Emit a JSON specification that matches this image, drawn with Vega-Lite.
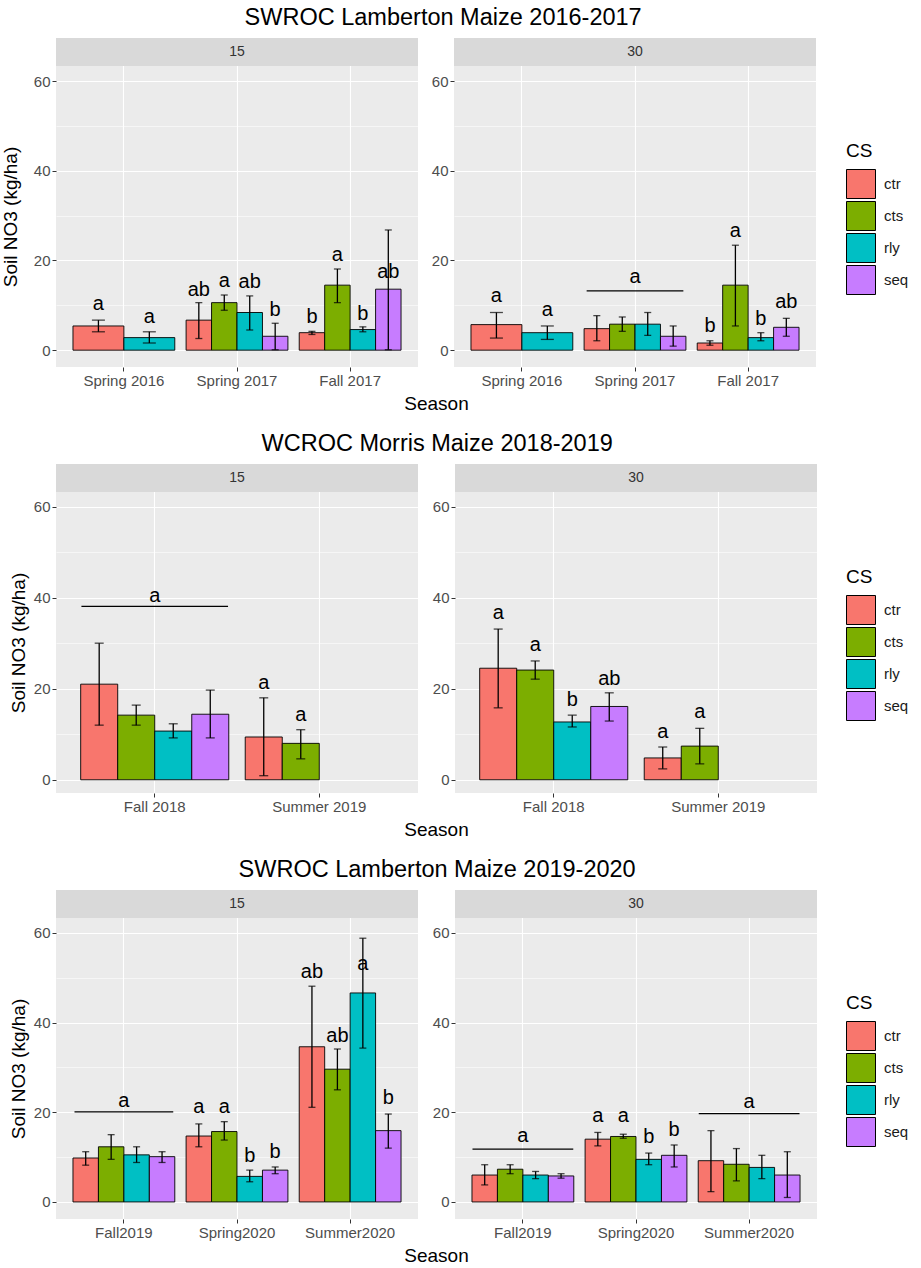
{
"$schema": "https://vega.github.io/schema/vega-lite/v6.json",
"background": "white",
"padding": {"left": 1, "top": 5, "right": 0, "bottom": 0},
"spacing": 18,
"columns": 1,
"align": "none",
"datasets": {
"strips": [
{"row":1,"depth":"15"},{"row":1,"depth":"30"},
{"row":2,"depth":"15"},{"row":2,"depth":"30"},
{"row":3,"depth":"15"},{"row":3,"depth":"30"}
],
"lines": [
{"row":1,"depth":"30","season":"Spring 2017","yv":13.2,"lab":"a","ly":15.0},
{"row":2,"depth":"15","season":"Fall 2018","yv":38.1,"lab":"a","ly":39.0},
{"row":3,"depth":"15","season":"Fall2019","yv":20.1,"lab":"a","ly":21.1},
{"row":3,"depth":"30","season":"Fall2019","yv":11.8,"lab":"a","ly":13.3},
{"row":3,"depth":"30","season":"Summer2020","yv":19.7,"lab":"a","ly":20.9}
],
"bars": [
{"row":1,"depth":"15","season":"Spring 2016","cs":"ctr","m":5.4,"lo":4.1,"hi":6.7,"lab":"a","ly":8.9,"grp":"two"},
{"row":1,"depth":"15","season":"Spring 2016","cs":"rly","m":2.8,"lo":1.6,"hi":4.1,"lab":"a","ly":6.1,"grp":"two"},
{"row":1,"depth":"15","season":"Spring 2017","cs":"ctr","m":6.7,"lo":2.6,"hi":10.6,"lab":"ab","ly":12.1,"grp":"four"},
{"row":1,"depth":"15","season":"Spring 2017","cs":"cts","m":10.6,"lo":8.9,"hi":12.3,"lab":"a","ly":14.1,"grp":"four"},
{"row":1,"depth":"15","season":"Spring 2017","cs":"rly","m":8.4,"lo":4.5,"hi":12.1,"lab":"ab","ly":13.8,"grp":"four"},
{"row":1,"depth":"15","season":"Spring 2017","cs":"seq","m":3.1,"lo":0.1,"hi":6.0,"lab":"b","ly":7.7,"grp":"four"},
{"row":1,"depth":"15","season":"Fall 2017","cs":"ctr","m":3.9,"lo":3.5,"hi":4.2,"lab":"b","ly":6.1,"grp":"four"},
{"row":1,"depth":"15","season":"Fall 2017","cs":"cts","m":14.5,"lo":10.6,"hi":18.1,"lab":"a","ly":19.9,"grp":"four"},
{"row":1,"depth":"15","season":"Fall 2017","cs":"rly","m":4.6,"lo":4.1,"hi":5.2,"lab":"b","ly":6.8,"grp":"four"},
{"row":1,"depth":"15","season":"Fall 2017","cs":"seq","m":13.6,"lo":0.1,"hi":26.8,"lab":"ab","ly":16.0,"grp":"four"},
{"row":1,"depth":"30","season":"Spring 2016","cs":"ctr","m":5.7,"lo":2.7,"hi":8.4,"lab":"a","ly":10.8,"grp":"two"},
{"row":1,"depth":"30","season":"Spring 2016","cs":"rly","m":3.9,"lo":2.4,"hi":5.4,"lab":"a","ly":7.7,"grp":"two"},
{"row":1,"depth":"30","season":"Spring 2017","cs":"ctr","m":4.8,"lo":2.1,"hi":7.7,"lab":"","ly":0,"grp":"four"},
{"row":1,"depth":"30","season":"Spring 2017","cs":"cts","m":5.8,"lo":4.2,"hi":7.4,"lab":"","ly":0,"grp":"four"},
{"row":1,"depth":"30","season":"Spring 2017","cs":"rly","m":5.8,"lo":3.3,"hi":8.4,"lab":"","ly":0,"grp":"four"},
{"row":1,"depth":"30","season":"Spring 2017","cs":"seq","m":3.1,"lo":0.9,"hi":5.4,"lab":"","ly":0,"grp":"four"},
{"row":1,"depth":"30","season":"Fall 2017","cs":"ctr","m":1.6,"lo":1.1,"hi":2.1,"lab":"b","ly":4.1,"grp":"four"},
{"row":1,"depth":"30","season":"Fall 2017","cs":"cts","m":14.5,"lo":5.4,"hi":23.4,"lab":"a","ly":25.3,"grp":"four"},
{"row":1,"depth":"30","season":"Fall 2017","cs":"rly","m":2.8,"lo":2.1,"hi":3.9,"lab":"b","ly":5.6,"grp":"four"},
{"row":1,"depth":"30","season":"Fall 2017","cs":"seq","m":5.1,"lo":3.1,"hi":7.1,"lab":"ab","ly":9.3,"grp":"four"},
{"row":2,"depth":"15","season":"Fall 2018","cs":"ctr","m":21.0,"lo":12.0,"hi":30.0,"lab":"","ly":0,"grp":"four"},
{"row":2,"depth":"15","season":"Fall 2018","cs":"cts","m":14.2,"lo":12.0,"hi":16.4,"lab":"","ly":0,"grp":"four"},
{"row":2,"depth":"15","season":"Fall 2018","cs":"rly","m":10.7,"lo":9.2,"hi":12.3,"lab":"","ly":0,"grp":"four"},
{"row":2,"depth":"15","season":"Fall 2018","cs":"seq","m":14.4,"lo":9.2,"hi":19.7,"lab":"","ly":0,"grp":"four"},
{"row":2,"depth":"15","season":"Summer 2019","cs":"ctr","m":9.4,"lo":0.9,"hi":18.0,"lab":"a","ly":19.9,"grp":"four"},
{"row":2,"depth":"15","season":"Summer 2019","cs":"cts","m":8.0,"lo":4.6,"hi":11.0,"lab":"a","ly":12.9,"grp":"four"},
{"row":2,"depth":"30","season":"Fall 2018","cs":"ctr","m":24.5,"lo":15.8,"hi":33.1,"lab":"a","ly":35.3,"grp":"four"},
{"row":2,"depth":"30","season":"Fall 2018","cs":"cts","m":24.1,"lo":22.1,"hi":26.1,"lab":"a","ly":28.2,"grp":"four"},
{"row":2,"depth":"30","season":"Fall 2018","cs":"rly","m":12.7,"lo":11.6,"hi":14.2,"lab":"b","ly":16.2,"grp":"four"},
{"row":2,"depth":"30","season":"Fall 2018","cs":"seq","m":16.1,"lo":12.9,"hi":19.1,"lab":"ab","ly":20.8,"grp":"four"},
{"row":2,"depth":"30","season":"Summer 2019","cs":"ctr","m":4.8,"lo":2.4,"hi":7.2,"lab":"a","ly":9.2,"grp":"four"},
{"row":2,"depth":"30","season":"Summer 2019","cs":"cts","m":7.4,"lo":3.5,"hi":11.3,"lab":"a","ly":13.5,"grp":"four"},
{"row":3,"depth":"15","season":"Fall2019","cs":"ctr","m":9.8,"lo":8.2,"hi":11.2,"lab":"","ly":0,"grp":"four"},
{"row":3,"depth":"15","season":"Fall2019","cs":"cts","m":12.3,"lo":9.5,"hi":15.0,"lab":"","ly":0,"grp":"four"},
{"row":3,"depth":"15","season":"Fall2019","cs":"rly","m":10.5,"lo":8.8,"hi":12.3,"lab":"","ly":0,"grp":"four"},
{"row":3,"depth":"15","season":"Fall2019","cs":"seq","m":10.1,"lo":8.8,"hi":11.2,"lab":"","ly":0,"grp":"four"},
{"row":3,"depth":"15","season":"Spring2020","cs":"ctr","m":14.7,"lo":12.3,"hi":17.4,"lab":"a","ly":19.8,"grp":"four"},
{"row":3,"depth":"15","season":"Spring2020","cs":"cts","m":15.7,"lo":13.8,"hi":17.9,"lab":"a","ly":19.8,"grp":"four"},
{"row":3,"depth":"15","season":"Spring2020","cs":"rly","m":5.7,"lo":4.5,"hi":7.1,"lab":"b","ly":8.9,"grp":"four"},
{"row":3,"depth":"15","season":"Spring2020","cs":"seq","m":7.1,"lo":6.3,"hi":7.8,"lab":"b","ly":9.8,"grp":"four"},
{"row":3,"depth":"15","season":"Summer2020","cs":"ctr","m":34.6,"lo":21.1,"hi":48.1,"lab":"ab","ly":49.9,"grp":"four"},
{"row":3,"depth":"15","season":"Summer2020","cs":"cts","m":29.6,"lo":25.0,"hi":34.1,"lab":"ab","ly":35.7,"grp":"four"},
{"row":3,"depth":"15","season":"Summer2020","cs":"rly","m":46.6,"lo":34.3,"hi":58.8,"lab":"a","ly":51.7,"grp":"four"},
{"row":3,"depth":"15","season":"Summer2020","cs":"seq","m":15.9,"lo":12.0,"hi":19.6,"lab":"b","ly":21.8,"grp":"four"},
{"row":3,"depth":"30","season":"Fall2019","cs":"ctr","m":6.0,"lo":3.8,"hi":8.3,"lab":"","ly":0,"grp":"four"},
{"row":3,"depth":"30","season":"Fall2019","cs":"cts","m":7.3,"lo":6.3,"hi":8.3,"lab":"","ly":0,"grp":"four"},
{"row":3,"depth":"30","season":"Fall2019","cs":"rly","m":6.0,"lo":5.2,"hi":6.8,"lab":"","ly":0,"grp":"four"},
{"row":3,"depth":"30","season":"Fall2019","cs":"seq","m":5.8,"lo":5.3,"hi":6.3,"lab":"","ly":0,"grp":"four"},
{"row":3,"depth":"30","season":"Spring2020","cs":"ctr","m":14.0,"lo":12.5,"hi":15.5,"lab":"a","ly":17.9,"grp":"four"},
{"row":3,"depth":"30","season":"Spring2020","cs":"cts","m":14.6,"lo":14.2,"hi":15.1,"lab":"a","ly":17.9,"grp":"four"},
{"row":3,"depth":"30","season":"Spring2020","cs":"rly","m":9.5,"lo":8.3,"hi":10.9,"lab":"b","ly":13.1,"grp":"four"},
{"row":3,"depth":"30","season":"Spring2020","cs":"seq","m":10.4,"lo":7.8,"hi":12.7,"lab":"b","ly":14.6,"grp":"four"},
{"row":3,"depth":"30","season":"Summer2020","cs":"ctr","m":9.2,"lo":2.3,"hi":15.9,"lab":"","ly":0,"grp":"four"},
{"row":3,"depth":"30","season":"Summer2020","cs":"cts","m":8.4,"lo":4.7,"hi":11.9,"lab":"","ly":0,"grp":"four"},
{"row":3,"depth":"30","season":"Summer2020","cs":"rly","m":7.7,"lo":5.2,"hi":10.4,"lab":"","ly":0,"grp":"four"},
{"row":3,"depth":"30","season":"Summer2020","cs":"seq","m":6.0,"lo":1.0,"hi":11.2,"lab":"","ly":0,"grp":"four"}
]
},
"concat": [
{
"title": {"text": "SWROC Lamberton Maize 2016-2017", "dx": -12},
"bounds": "flush",
"spacing": 36,
"resolve": {"scale": {"xOffset": "independent"}},
"hconcat": [
{
"width": 362, "height": 329,
"resolve": {"scale": {"xOffset": "independent"}},
"layer": [
{"data": {"name": "strips"}, "transform": [{"filter": "datum.row==1 && datum.depth=='15'"}],
 "mark": {"type": "rect", "fill": "#D9D9D9"},
 "encoding": {"x": {"value": 0}, "x2": {"value": "width"},
  "y": {"datum": 63.35, "type": "quantitative", "scale": {"domain": [-3.75, 69.6], "nice": false, "zero": false},
   "axis": {"grid": true, "values": [0,10,20,30,40,50,60], "labelExpr": "datum.value % 20 === 0 ? datum.label : ''", "tickOpacity": {"condition": {"test": "datum.value % 20 === 0", "value": 1}, "value": 0}, "gridWidth": {"condition": {"test": "datum.value % 20 === 0", "value": 1.1}, "value": 0.55}, "title": "Soil NO3 (kg/ha)", "titleY": 178.5, "titlePadding": 13}},
  "y2": {"datum": 69.6}}},
{"data": {"name": "strips"}, "transform": [{"filter": "datum.row==1 && datum.depth=='15'"}],
 "mark": {"type": "text", "fontSize": 14, "color": "#333333", "baseline": "middle"},
 "encoding": {"y": {"datum": 66.5, "type": "quantitative", "scale": {"domain": [-3.75, 69.6], "nice": false, "zero": false}}, "text": {"field": "depth"}}},
{"data": {"name": "bars"}, "transform": [{"filter": "datum.row==1 && datum.depth=='15' && datum.grp=='four'"}],
 "encoding": {
  "x": {"field": "season", "type": "nominal", "scale": {"domain": ["Spring 2016","Spring 2017","Fall 2017"], "paddingInner": 0.1, "paddingOuter": 0.15}, "axis": {"bandPosition": 0.5, "grid": true, "gridWidth": 1.1, "labelAngle": 0, "title": "Season", "titleX": 380, "titleY": 36, "titleBaseline": "middle", "titleAlign": "center"}},
  "xOffset": {"field": "cs", "type": "nominal", "scale": {"domain": ["ctr","cts","rly","seq"], "paddingInner": 0, "paddingOuter": 0}}},
 "layer": [
  {"mark": {"type": "bar", "stroke": "black", "strokeWidth": 0.9}, "encoding": {"y": {"field": "m", "type": "quantitative", "scale": {"domain": [-3.75, 69.6], "nice": false, "zero": false}}, "y2": {"datum": 0}, "fill": {"field": "cs", "type": "nominal", "scale": {"domain": ["ctr","cts","rly","seq"], "range": ["#F8766D","#7CAE00","#00BFC4","#C77CFF"]}, "legend": {"title": "CS", "orient": "none", "legendX": 790, "legendY": 104, "rowPadding": -5}}}},
  {"mark": {"type": "rule", "color": "black", "strokeWidth": 1.3}, "encoding": {"y": {"field": "lo", "type": "quantitative", "scale": {"domain": [-3.75, 69.6], "nice": false, "zero": false}}, "y2": {"field": "hi"}}},
  {"mark": {"type": "tick", "color": "black", "thickness": 1.3, "size": 7, "orient": "horizontal"}, "encoding": {"y": {"field": "lo", "type": "quantitative", "scale": {"domain": [-3.75, 69.6], "nice": false, "zero": false}}}},
  {"mark": {"type": "tick", "color": "black", "thickness": 1.3, "size": 7, "orient": "horizontal"}, "encoding": {"y": {"field": "hi", "type": "quantitative", "scale": {"domain": [-3.75, 69.6], "nice": false, "zero": false}}}},
  {"mark": {"type": "text", "fontSize": 20, "baseline": "alphabetic", "color": "black"}, "encoding": {"y": {"field": "ly", "type": "quantitative", "scale": {"domain": [-3.75, 69.6], "nice": false, "zero": false}}, "text": {"field": "lab"}}}
 ]},
{"data": {"name": "bars"}, "transform": [{"filter": "datum.row==1 && datum.depth=='15' && datum.grp=='two'"}],
 "encoding": {
  "x": {"field": "season", "type": "nominal", "scale": {"domain": ["Spring 2016","Spring 2017","Fall 2017"], "paddingInner": 0.1, "paddingOuter": 0.15}},
  "xOffset": {"field": "cs", "type": "nominal", "scale": {"domain": ["ctr","rly"], "paddingInner": 0, "paddingOuter": 0}}},
 "layer": [
  {"mark": {"type": "bar", "stroke": "black", "strokeWidth": 0.9}, "encoding": {"y": {"field": "m", "type": "quantitative", "scale": {"domain": [-3.75, 69.6], "nice": false, "zero": false}}, "y2": {"datum": 0}, "fill": {"field": "cs", "type": "nominal", "scale": {"domain": ["ctr","cts","rly","seq"], "range": ["#F8766D","#7CAE00","#00BFC4","#C77CFF"]}, "legend": {"title": "CS", "orient": "none", "legendX": 790, "legendY": 104, "rowPadding": -5}}}},
  {"mark": {"type": "rule", "color": "black", "strokeWidth": 1.3}, "encoding": {"y": {"field": "lo", "type": "quantitative", "scale": {"domain": [-3.75, 69.6], "nice": false, "zero": false}}, "y2": {"field": "hi"}}},
  {"mark": {"type": "tick", "color": "black", "thickness": 1.3, "size": 13, "orient": "horizontal"}, "encoding": {"y": {"field": "lo", "type": "quantitative", "scale": {"domain": [-3.75, 69.6], "nice": false, "zero": false}}}},
  {"mark": {"type": "tick", "color": "black", "thickness": 1.3, "size": 13, "orient": "horizontal"}, "encoding": {"y": {"field": "hi", "type": "quantitative", "scale": {"domain": [-3.75, 69.6], "nice": false, "zero": false}}}},
  {"mark": {"type": "text", "fontSize": 20, "baseline": "alphabetic", "color": "black"}, "encoding": {"y": {"field": "ly", "type": "quantitative", "scale": {"domain": [-3.75, 69.6], "nice": false, "zero": false}}, "text": {"field": "lab"}}}
 ]}
]
},
{
"width": 362, "height": 329,
"resolve": {"scale": {"xOffset": "independent"}},
"layer": [
{"data": {"name": "strips"}, "transform": [{"filter": "datum.row==1 && datum.depth=='30'"}],
 "mark": {"type": "rect", "fill": "#D9D9D9"},
 "encoding": {"x": {"value": 0}, "x2": {"value": "width"},
  "y": {"datum": 63.35, "type": "quantitative", "scale": {"domain": [-3.75, 69.6], "nice": false, "zero": false},
   "axis": {"grid": true, "values": [0,10,20,30,40,50,60], "labelExpr": "datum.value % 20 === 0 ? datum.label : ''", "tickOpacity": {"condition": {"test": "datum.value % 20 === 0", "value": 1}, "value": 0}, "gridWidth": {"condition": {"test": "datum.value % 20 === 0", "value": 1.1}, "value": 0.55}, "title": null}},
  "y2": {"datum": 69.6}}},
{"data": {"name": "strips"}, "transform": [{"filter": "datum.row==1 && datum.depth=='30'"}],
 "mark": {"type": "text", "fontSize": 14, "color": "#333333", "baseline": "middle"},
 "encoding": {"y": {"datum": 66.5, "type": "quantitative", "scale": {"domain": [-3.75, 69.6], "nice": false, "zero": false}}, "text": {"field": "depth"}}},
{"data": {"name": "bars"}, "transform": [{"filter": "datum.row==1 && datum.depth=='30' && datum.grp=='four'"}],
 "encoding": {
  "x": {"field": "season", "type": "nominal", "scale": {"domain": ["Spring 2016","Spring 2017","Fall 2017"], "paddingInner": 0.1, "paddingOuter": 0.15}, "axis": {"bandPosition": 0.5, "grid": true, "gridWidth": 1.1, "labelAngle": 0, "title": null}},
  "xOffset": {"field": "cs", "type": "nominal", "scale": {"domain": ["ctr","cts","rly","seq"], "paddingInner": 0, "paddingOuter": 0}}},
 "layer": [
  {"mark": {"type": "bar", "stroke": "black", "strokeWidth": 0.9}, "encoding": {"y": {"field": "m", "type": "quantitative", "scale": {"domain": [-3.75, 69.6], "nice": false, "zero": false}}, "y2": {"datum": 0}, "fill": {"field": "cs", "type": "nominal", "scale": {"domain": ["ctr","cts","rly","seq"], "range": ["#F8766D","#7CAE00","#00BFC4","#C77CFF"]}, "legend": {"title": "CS", "orient": "none", "legendX": 790, "legendY": 104, "rowPadding": -5}}}},
  {"mark": {"type": "rule", "color": "black", "strokeWidth": 1.3}, "encoding": {"y": {"field": "lo", "type": "quantitative", "scale": {"domain": [-3.75, 69.6], "nice": false, "zero": false}}, "y2": {"field": "hi"}}},
  {"mark": {"type": "tick", "color": "black", "thickness": 1.3, "size": 7, "orient": "horizontal"}, "encoding": {"y": {"field": "lo", "type": "quantitative", "scale": {"domain": [-3.75, 69.6], "nice": false, "zero": false}}}},
  {"mark": {"type": "tick", "color": "black", "thickness": 1.3, "size": 7, "orient": "horizontal"}, "encoding": {"y": {"field": "hi", "type": "quantitative", "scale": {"domain": [-3.75, 69.6], "nice": false, "zero": false}}}},
  {"mark": {"type": "text", "fontSize": 20, "baseline": "alphabetic", "color": "black"}, "encoding": {"y": {"field": "ly", "type": "quantitative", "scale": {"domain": [-3.75, 69.6], "nice": false, "zero": false}}, "text": {"field": "lab"}}}
 ]},
{"data": {"name": "bars"}, "transform": [{"filter": "datum.row==1 && datum.depth=='30' && datum.grp=='two'"}],
 "encoding": {
  "x": {"field": "season", "type": "nominal", "scale": {"domain": ["Spring 2016","Spring 2017","Fall 2017"], "paddingInner": 0.1, "paddingOuter": 0.15}},
  "xOffset": {"field": "cs", "type": "nominal", "scale": {"domain": ["ctr","rly"], "paddingInner": 0, "paddingOuter": 0}}},
 "layer": [
  {"mark": {"type": "bar", "stroke": "black", "strokeWidth": 0.9}, "encoding": {"y": {"field": "m", "type": "quantitative", "scale": {"domain": [-3.75, 69.6], "nice": false, "zero": false}}, "y2": {"datum": 0}, "fill": {"field": "cs", "type": "nominal", "scale": {"domain": ["ctr","cts","rly","seq"], "range": ["#F8766D","#7CAE00","#00BFC4","#C77CFF"]}, "legend": {"title": "CS", "orient": "none", "legendX": 790, "legendY": 104, "rowPadding": -5}}}},
  {"mark": {"type": "rule", "color": "black", "strokeWidth": 1.3}, "encoding": {"y": {"field": "lo", "type": "quantitative", "scale": {"domain": [-3.75, 69.6], "nice": false, "zero": false}}, "y2": {"field": "hi"}}},
  {"mark": {"type": "tick", "color": "black", "thickness": 1.3, "size": 13, "orient": "horizontal"}, "encoding": {"y": {"field": "lo", "type": "quantitative", "scale": {"domain": [-3.75, 69.6], "nice": false, "zero": false}}}},
  {"mark": {"type": "tick", "color": "black", "thickness": 1.3, "size": 13, "orient": "horizontal"}, "encoding": {"y": {"field": "hi", "type": "quantitative", "scale": {"domain": [-3.75, 69.6], "nice": false, "zero": false}}}},
  {"mark": {"type": "text", "fontSize": 20, "baseline": "alphabetic", "color": "black"}, "encoding": {"y": {"field": "ly", "type": "quantitative", "scale": {"domain": [-3.75, 69.6], "nice": false, "zero": false}}, "text": {"field": "lab"}}}
 ]},
{"data": {"name": "lines"}, "transform": [{"filter": "datum.row==1 && datum.depth=='30'"}],
 "encoding": {"x": {"field": "season", "type": "nominal", "scale": {"domain": ["Spring 2016","Spring 2017","Fall 2017"], "paddingInner": 0.1, "paddingOuter": 0.15}}},
 "layer": [
  {"mark": {"type": "bar", "fill": "black", "stroke": "black", "strokeWidth": 1.2, "width": {"band": 0.95}}, "encoding": {"y": {"field": "yv", "type": "quantitative", "scale": {"domain": [-3.75, 69.6], "nice": false, "zero": false}}, "y2": {"field": "yv"}}},
  {"mark": {"type": "text", "fontSize": 20, "baseline": "alphabetic", "color": "black"}, "encoding": {"y": {"field": "ly", "type": "quantitative", "scale": {"domain": [-3.75, 69.6], "nice": false, "zero": false}}, "text": {"field": "lab"}}}
 ]}
]
}
]
},
{
"title": {"text": "WCROC Morris Maize 2018-2019", "dx": -22},
"bounds": "flush",
"spacing": 37,
"resolve": {"scale": {"xOffset": "independent"}},
"hconcat": [
{
"width": 362, "height": 329,
"layer": [
{"data": {"name": "strips"}, "transform": [{"filter": "datum.row==2 && datum.depth=='15'"}],
 "mark": {"type": "rect", "fill": "#D9D9D9"},
 "encoding": {"x": {"value": 0}, "x2": {"value": "width"},
  "y": {"datum": 63.2, "type": "quantitative", "scale": {"domain": [-2.9, 69.35], "nice": false, "zero": false},
   "axis": {"grid": true, "values": [0,10,20,30,40,50,60], "labelExpr": "datum.value % 20 === 0 ? datum.label : ''", "tickOpacity": {"condition": {"test": "datum.value % 20 === 0", "value": 1}, "value": 0}, "gridWidth": {"condition": {"test": "datum.value % 20 === 0", "value": 1.1}, "value": 0.55}, "title": "Soil NO3 (kg/ha)", "titleY": 178.5, "titlePadding": 5}},
  "y2": {"datum": 69.35}}},
{"data": {"name": "strips"}, "transform": [{"filter": "datum.row==2 && datum.depth=='15'"}],
 "mark": {"type": "text", "fontSize": 14, "color": "#333333", "baseline": "middle"},
 "encoding": {"y": {"datum": 66.3, "type": "quantitative", "scale": {"domain": [-2.9, 69.35], "nice": false, "zero": false}}, "text": {"field": "depth"}}},
{"data": {"name": "bars"}, "transform": [{"filter": "datum.row==2 && datum.depth=='15'"}],
 "encoding": {
  "x": {"field": "season", "type": "nominal", "scale": {"domain": ["Fall 2018","Summer 2019"], "paddingInner": 0.1, "paddingOuter": 0.15}, "axis": {"bandPosition": 0.5, "grid": true, "gridWidth": 1.1, "labelAngle": 0, "title": "Season", "titleX": 380, "titleY": 36, "titleBaseline": "middle", "titleAlign": "center"}},
  "xOffset": {"field": "cs", "type": "nominal", "scale": {"domain": ["ctr","cts","rly","seq"], "paddingInner": 0, "paddingOuter": 0}}},
 "layer": [
  {"mark": {"type": "bar", "stroke": "black", "strokeWidth": 0.9}, "encoding": {"y": {"field": "m", "type": "quantitative", "scale": {"domain": [-2.9, 69.35], "nice": false, "zero": false}}, "y2": {"datum": 0}, "fill": {"field": "cs", "type": "nominal", "scale": {"domain": ["ctr","cts","rly","seq"], "range": ["#F8766D","#7CAE00","#00BFC4","#C77CFF"]}, "legend": {"title": "CS", "orient": "none", "legendX": 790, "legendY": 104, "rowPadding": -5}}}},
  {"mark": {"type": "rule", "color": "black", "strokeWidth": 1.3}, "encoding": {"y": {"field": "lo", "type": "quantitative", "scale": {"domain": [-2.9, 69.35], "nice": false, "zero": false}}, "y2": {"field": "hi"}}},
  {"mark": {"type": "tick", "color": "black", "thickness": 1.3, "size": 9, "orient": "horizontal"}, "encoding": {"y": {"field": "lo", "type": "quantitative", "scale": {"domain": [-2.9, 69.35], "nice": false, "zero": false}}}},
  {"mark": {"type": "tick", "color": "black", "thickness": 1.3, "size": 9, "orient": "horizontal"}, "encoding": {"y": {"field": "hi", "type": "quantitative", "scale": {"domain": [-2.9, 69.35], "nice": false, "zero": false}}}},
  {"mark": {"type": "text", "fontSize": 20, "baseline": "alphabetic", "color": "black"}, "encoding": {"y": {"field": "ly", "type": "quantitative", "scale": {"domain": [-2.9, 69.35], "nice": false, "zero": false}}, "text": {"field": "lab"}}}
 ]},
{"data": {"name": "lines"}, "transform": [{"filter": "datum.row==2 && datum.depth=='15'"}],
 "encoding": {"x": {"field": "season", "type": "nominal", "scale": {"domain": ["Fall 2018","Summer 2019"], "paddingInner": 0.1, "paddingOuter": 0.15}}},
 "layer": [
  {"mark": {"type": "bar", "fill": "black", "stroke": "black", "strokeWidth": 1.2, "width": {"band": 0.99}}, "encoding": {"y": {"field": "yv", "type": "quantitative", "scale": {"domain": [-2.9, 69.35], "nice": false, "zero": false}}, "y2": {"field": "yv"}}},
  {"mark": {"type": "text", "fontSize": 20, "baseline": "alphabetic", "color": "black"}, "encoding": {"y": {"field": "ly", "type": "quantitative", "scale": {"domain": [-2.9, 69.35], "nice": false, "zero": false}}, "text": {"field": "lab"}}}
 ]}
]
},
{
"width": 362, "height": 329,
"layer": [
{"data": {"name": "strips"}, "transform": [{"filter": "datum.row==2 && datum.depth=='30'"}],
 "mark": {"type": "rect", "fill": "#D9D9D9"},
 "encoding": {"x": {"value": 0}, "x2": {"value": "width"},
  "y": {"datum": 63.2, "type": "quantitative", "scale": {"domain": [-2.9, 69.35], "nice": false, "zero": false},
   "axis": {"grid": true, "values": [0,10,20,30,40,50,60], "labelExpr": "datum.value % 20 === 0 ? datum.label : ''", "tickOpacity": {"condition": {"test": "datum.value % 20 === 0", "value": 1}, "value": 0}, "gridWidth": {"condition": {"test": "datum.value % 20 === 0", "value": 1.1}, "value": 0.55}, "title": null}},
  "y2": {"datum": 69.35}}},
{"data": {"name": "strips"}, "transform": [{"filter": "datum.row==2 && datum.depth=='30'"}],
 "mark": {"type": "text", "fontSize": 14, "color": "#333333", "baseline": "middle"},
 "encoding": {"y": {"datum": 66.3, "type": "quantitative", "scale": {"domain": [-2.9, 69.35], "nice": false, "zero": false}}, "text": {"field": "depth"}}},
{"data": {"name": "bars"}, "transform": [{"filter": "datum.row==2 && datum.depth=='30'"}],
 "encoding": {
  "x": {"field": "season", "type": "nominal", "scale": {"domain": ["Fall 2018","Summer 2019"], "paddingInner": 0.1, "paddingOuter": 0.15}, "axis": {"bandPosition": 0.5, "grid": true, "gridWidth": 1.1, "labelAngle": 0, "title": null}},
  "xOffset": {"field": "cs", "type": "nominal", "scale": {"domain": ["ctr","cts","rly","seq"], "paddingInner": 0, "paddingOuter": 0}}},
 "layer": [
  {"mark": {"type": "bar", "stroke": "black", "strokeWidth": 0.9}, "encoding": {"y": {"field": "m", "type": "quantitative", "scale": {"domain": [-2.9, 69.35], "nice": false, "zero": false}}, "y2": {"datum": 0}, "fill": {"field": "cs", "type": "nominal", "scale": {"domain": ["ctr","cts","rly","seq"], "range": ["#F8766D","#7CAE00","#00BFC4","#C77CFF"]}, "legend": {"title": "CS", "orient": "none", "legendX": 790, "legendY": 104, "rowPadding": -5}}}},
  {"mark": {"type": "rule", "color": "black", "strokeWidth": 1.3}, "encoding": {"y": {"field": "lo", "type": "quantitative", "scale": {"domain": [-2.9, 69.35], "nice": false, "zero": false}}, "y2": {"field": "hi"}}},
  {"mark": {"type": "tick", "color": "black", "thickness": 1.3, "size": 9, "orient": "horizontal"}, "encoding": {"y": {"field": "lo", "type": "quantitative", "scale": {"domain": [-2.9, 69.35], "nice": false, "zero": false}}}},
  {"mark": {"type": "tick", "color": "black", "thickness": 1.3, "size": 9, "orient": "horizontal"}, "encoding": {"y": {"field": "hi", "type": "quantitative", "scale": {"domain": [-2.9, 69.35], "nice": false, "zero": false}}}},
  {"mark": {"type": "text", "fontSize": 20, "baseline": "alphabetic", "color": "black"}, "encoding": {"y": {"field": "ly", "type": "quantitative", "scale": {"domain": [-2.9, 69.35], "nice": false, "zero": false}}, "text": {"field": "lab"}}}
 ]}
]
}
]
},
{
"title": {"text": "SWROC Lamberton Maize 2019-2020", "dx": -22},
"bounds": "flush",
"spacing": 37,
"resolve": {"scale": {"xOffset": "independent"}},
"hconcat": [
{
"width": 362, "height": 329,
"layer": [
{"data": {"name": "strips"}, "transform": [{"filter": "datum.row==3 && datum.depth=='15'"}],
 "mark": {"type": "rect", "fill": "#D9D9D9"},
 "encoding": {"x": {"value": 0}, "x2": {"value": "width"},
  "y": {"datum": 63.3, "type": "quantitative", "scale": {"domain": [-3.8, 69.55], "nice": false, "zero": false},
   "axis": {"grid": true, "values": [0,10,20,30,40,50,60], "labelExpr": "datum.value % 20 === 0 ? datum.label : ''", "tickOpacity": {"condition": {"test": "datum.value % 20 === 0", "value": 1}, "value": 0}, "gridWidth": {"condition": {"test": "datum.value % 20 === 0", "value": 1.1}, "value": 0.55}, "title": "Soil NO3 (kg/ha)", "titleY": 178.5, "titlePadding": 5}},
  "y2": {"datum": 69.55}}},
{"data": {"name": "strips"}, "transform": [{"filter": "datum.row==3 && datum.depth=='15'"}],
 "mark": {"type": "text", "fontSize": 14, "color": "#333333", "baseline": "middle"},
 "encoding": {"y": {"datum": 66.4, "type": "quantitative", "scale": {"domain": [-3.8, 69.55], "nice": false, "zero": false}}, "text": {"field": "depth"}}},
{"data": {"name": "bars"}, "transform": [{"filter": "datum.row==3 && datum.depth=='15'"}],
 "encoding": {
  "x": {"field": "season", "type": "nominal", "scale": {"domain": ["Fall2019","Spring2020","Summer2020"], "paddingInner": 0.1, "paddingOuter": 0.15}, "axis": {"bandPosition": 0.5, "grid": true, "gridWidth": 1.1, "labelAngle": 0, "title": "Season", "titleX": 380, "titleY": 36, "titleBaseline": "middle", "titleAlign": "center"}},
  "xOffset": {"field": "cs", "type": "nominal", "scale": {"domain": ["ctr","cts","rly","seq"], "paddingInner": 0, "paddingOuter": 0}}},
 "layer": [
  {"mark": {"type": "bar", "stroke": "black", "strokeWidth": 0.9}, "encoding": {"y": {"field": "m", "type": "quantitative", "scale": {"domain": [-3.8, 69.55], "nice": false, "zero": false}}, "y2": {"datum": 0}, "fill": {"field": "cs", "type": "nominal", "scale": {"domain": ["ctr","cts","rly","seq"], "range": ["#F8766D","#7CAE00","#00BFC4","#C77CFF"]}, "legend": {"title": "CS", "orient": "none", "legendX": 790, "legendY": 104, "rowPadding": -5}}}},
  {"mark": {"type": "rule", "color": "black", "strokeWidth": 1.3}, "encoding": {"y": {"field": "lo", "type": "quantitative", "scale": {"domain": [-3.8, 69.55], "nice": false, "zero": false}}, "y2": {"field": "hi"}}},
  {"mark": {"type": "tick", "color": "black", "thickness": 1.3, "size": 7, "orient": "horizontal"}, "encoding": {"y": {"field": "lo", "type": "quantitative", "scale": {"domain": [-3.8, 69.55], "nice": false, "zero": false}}}},
  {"mark": {"type": "tick", "color": "black", "thickness": 1.3, "size": 7, "orient": "horizontal"}, "encoding": {"y": {"field": "hi", "type": "quantitative", "scale": {"domain": [-3.8, 69.55], "nice": false, "zero": false}}}},
  {"mark": {"type": "text", "fontSize": 20, "baseline": "alphabetic", "color": "black"}, "encoding": {"y": {"field": "ly", "type": "quantitative", "scale": {"domain": [-3.8, 69.55], "nice": false, "zero": false}}, "text": {"field": "lab"}}}
 ]},
{"data": {"name": "lines"}, "transform": [{"filter": "datum.row==3 && datum.depth=='15'"}],
 "encoding": {"x": {"field": "season", "type": "nominal", "scale": {"domain": ["Fall2019","Spring2020","Summer2020"], "paddingInner": 0.1, "paddingOuter": 0.15}}},
 "layer": [
  {"mark": {"type": "bar", "fill": "black", "stroke": "black", "strokeWidth": 1.2, "width": {"band": 0.97}}, "encoding": {"y": {"field": "yv", "type": "quantitative", "scale": {"domain": [-3.8, 69.55], "nice": false, "zero": false}}, "y2": {"field": "yv"}}},
  {"mark": {"type": "text", "fontSize": 20, "baseline": "alphabetic", "color": "black"}, "encoding": {"y": {"field": "ly", "type": "quantitative", "scale": {"domain": [-3.8, 69.55], "nice": false, "zero": false}}, "text": {"field": "lab"}}}
 ]}
]
},
{
"width": 362, "height": 329,
"layer": [
{"data": {"name": "strips"}, "transform": [{"filter": "datum.row==3 && datum.depth=='30'"}],
 "mark": {"type": "rect", "fill": "#D9D9D9"},
 "encoding": {"x": {"value": 0}, "x2": {"value": "width"},
  "y": {"datum": 63.3, "type": "quantitative", "scale": {"domain": [-3.8, 69.55], "nice": false, "zero": false},
   "axis": {"grid": true, "values": [0,10,20,30,40,50,60], "labelExpr": "datum.value % 20 === 0 ? datum.label : ''", "tickOpacity": {"condition": {"test": "datum.value % 20 === 0", "value": 1}, "value": 0}, "gridWidth": {"condition": {"test": "datum.value % 20 === 0", "value": 1.1}, "value": 0.55}, "title": null}},
  "y2": {"datum": 69.55}}},
{"data": {"name": "strips"}, "transform": [{"filter": "datum.row==3 && datum.depth=='30'"}],
 "mark": {"type": "text", "fontSize": 14, "color": "#333333", "baseline": "middle"},
 "encoding": {"y": {"datum": 66.4, "type": "quantitative", "scale": {"domain": [-3.8, 69.55], "nice": false, "zero": false}}, "text": {"field": "depth"}}},
{"data": {"name": "bars"}, "transform": [{"filter": "datum.row==3 && datum.depth=='30'"}],
 "encoding": {
  "x": {"field": "season", "type": "nominal", "scale": {"domain": ["Fall2019","Spring2020","Summer2020"], "paddingInner": 0.1, "paddingOuter": 0.15}, "axis": {"bandPosition": 0.5, "grid": true, "gridWidth": 1.1, "labelAngle": 0, "title": null}},
  "xOffset": {"field": "cs", "type": "nominal", "scale": {"domain": ["ctr","cts","rly","seq"], "paddingInner": 0, "paddingOuter": 0}}},
 "layer": [
  {"mark": {"type": "bar", "stroke": "black", "strokeWidth": 0.9}, "encoding": {"y": {"field": "m", "type": "quantitative", "scale": {"domain": [-3.8, 69.55], "nice": false, "zero": false}}, "y2": {"datum": 0}, "fill": {"field": "cs", "type": "nominal", "scale": {"domain": ["ctr","cts","rly","seq"], "range": ["#F8766D","#7CAE00","#00BFC4","#C77CFF"]}, "legend": {"title": "CS", "orient": "none", "legendX": 790, "legendY": 104, "rowPadding": -5}}}},
  {"mark": {"type": "rule", "color": "black", "strokeWidth": 1.3}, "encoding": {"y": {"field": "lo", "type": "quantitative", "scale": {"domain": [-3.8, 69.55], "nice": false, "zero": false}}, "y2": {"field": "hi"}}},
  {"mark": {"type": "tick", "color": "black", "thickness": 1.3, "size": 7, "orient": "horizontal"}, "encoding": {"y": {"field": "lo", "type": "quantitative", "scale": {"domain": [-3.8, 69.55], "nice": false, "zero": false}}}},
  {"mark": {"type": "tick", "color": "black", "thickness": 1.3, "size": 7, "orient": "horizontal"}, "encoding": {"y": {"field": "hi", "type": "quantitative", "scale": {"domain": [-3.8, 69.55], "nice": false, "zero": false}}}},
  {"mark": {"type": "text", "fontSize": 20, "baseline": "alphabetic", "color": "black"}, "encoding": {"y": {"field": "ly", "type": "quantitative", "scale": {"domain": [-3.8, 69.55], "nice": false, "zero": false}}, "text": {"field": "lab"}}}
 ]},
{"data": {"name": "lines"}, "transform": [{"filter": "datum.row==3 && datum.depth=='30'"}],
 "encoding": {"x": {"field": "season", "type": "nominal", "scale": {"domain": ["Fall2019","Spring2020","Summer2020"], "paddingInner": 0.1, "paddingOuter": 0.15}}},
 "layer": [
  {"mark": {"type": "bar", "fill": "black", "stroke": "black", "strokeWidth": 1.2, "width": {"band": 0.99}}, "encoding": {"y": {"field": "yv", "type": "quantitative", "scale": {"domain": [-3.8, 69.55], "nice": false, "zero": false}}, "y2": {"field": "yv"}}},
  {"mark": {"type": "text", "fontSize": 20, "baseline": "alphabetic", "color": "black"}, "encoding": {"y": {"field": "ly", "type": "quantitative", "scale": {"domain": [-3.8, 69.55], "nice": false, "zero": false}}, "text": {"field": "lab"}}}
 ]}
]
}
]
}
],
"resolve": {"scale": {"fill": "independent", "xOffset": "independent"}, "legend": {"fill": "independent"}},
"config": {
 "font": "Liberation Sans",
 "view": {"fill": "#EBEBEB", "stroke": null},
 "axis": {"domain": false, "gridColor": "#FFFFFF", "tickColor": "#333333", "tickSize": 4, "tickWidth": 1, "labelColor": "#4D4D4D", "labelFontSize": 15, "labelPadding": 2, "titleFontSize": 19, "titleFontWeight": "normal", "titleColor": "#000000"},
 "legend": {"titleFontSize": 19, "titleFontWeight": "normal", "titleColor": "#000000", "labelFontSize": 15, "labelColor": "#1A1A1A", "symbolType": "square", "symbolSize": 841, "symbolStrokeColor": "#000000", "symbolStrokeWidth": 1, "symbolOpacity": 1, "titlePadding": 8, "labelOffset": 8},
 "title": {"fontSize": 23.5, "fontWeight": "normal", "color": "#000000", "anchor": "middle", "offset": 9}
}
}
